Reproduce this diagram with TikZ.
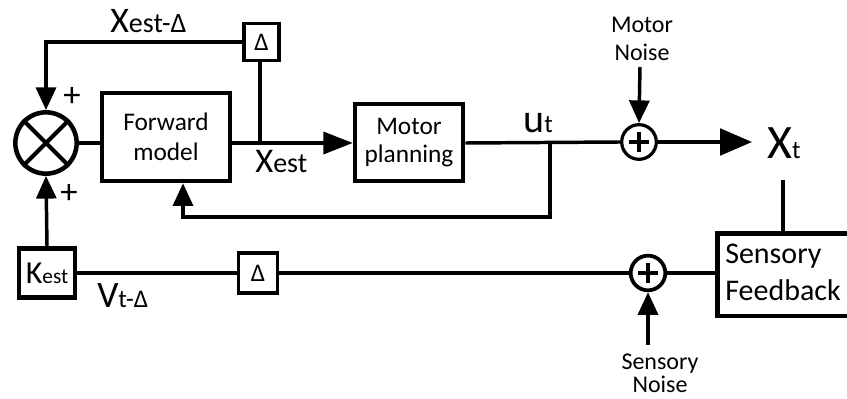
\documentclass[tikz,border=0pt]{standalone}
\usepackage{fontspec}
\setmainfont{Carlito}
\usetikzlibrary{arrows.meta}
\newcommand\fsz[2]{\fontsize{#1pt}{#2pt}\selectfont}
\begin{document}
\begin{tikzpicture}[x=0.75pt,y=-0.75pt,
  conn/.style={line width=2.6pt},
  boxst/.style={draw,line width=3.4pt,inner sep=0pt},
  dbox/.style={draw,line width=2.6pt,inner sep=0pt,font=\fsz{19}{20}},
  plusc/.style={circle,draw,line width=2.4pt,minimum size=26pt,inner sep=0pt},
  arr/.style={-{Triangle[length=17pt,width=15pt]}},
  arrbig/.style={-{Triangle[length=22pt,width=16.5pt]}},
  arrxt/.style={-{Triangle[length=24pt,width=20pt]}},
  lab/.style={inner sep=0pt},
]
\useasboundingbox (0,0) rectangle (847,399);
\clip (0,0) rectangle (847,399);

% summing junction
\node[circle,draw,line width=3.4pt,minimum size=46pt,inner sep=0pt] (sum) at (46,143) {};
\draw[line width=3pt] (sum.north west) -- (sum.south east) (sum.north east) -- (sum.south west);
\node[lab,font=\fsz{26}{27}] (p1) at (72,97) {+};
\node[lab,font=\fsz{26}{27}] (p2) at (69,194) {+};

% boxes
\node[boxst,minimum width=96pt,minimum height=66pt,align=center,font=\fsz{19}{22.5}] (fwd) at (166,137) {Forward\\model};
\node[boxst,minimum width=81pt,minimum height=58pt,align=center,font=\fsz{19}{21}] (mp) at (409,142.5) {Motor\\planning};
\node[dbox,minimum width=26pt,minimum height=28pt] (dtop) at (261.5,42) {Δ};
\node[dbox,minimum width=29pt,minimum height=30pt] (dbot) at (258,273) {Δ};
\node[boxst,minimum width=42pt,minimum height=37pt] (kest) at (47,273) {\fsz{24}{25}K\fsz{16}{17}est};
\node[boxst,minimum width=150pt,minimum height=62pt,anchor=north west] (sf) at (715,231) {};
\node[lab,anchor=west,align=left,font=\fsz{22.5}{28}] (sft) at (725,272.5) {Sensory\\Feedback};

% plus junctions
\node[plusc] (pm) at (639,142) {};
\draw[line width=2.6pt] ([xshift=-7.5pt]pm.center) -- ([xshift=7.5pt]pm.center) ([yshift=-7.5pt]pm.center) -- ([yshift=7.5pt]pm.center);
\node[plusc,line width=2.8pt] (ps) at (648,273) {};
\draw[line width=3pt] ([xshift=-7.5pt]ps.center) -- ([xshift=7.5pt]ps.center) ([yshift=-7.5pt]ps.center) -- ([yshift=7.5pt]ps.center);

% labels
\node[lab,anchor=base west] (lxd) at (110,33) {\fsz{27}{28}X\fsz{21}{22}est-Δ};
\node[lab,anchor=base west] (lxe) at (255,173) {\fsz{26}{27}X\fsz{21}{22}est};
\node[lab,anchor=base west] (lut) at (523,133) {\fsz{30}{31}u\fsz{19}{20}t};
\node[lab,anchor=base west] (lxt) at (767,159) {\fsz{36}{37}X\fsz{19}{20}t};
\node[lab,anchor=base west] (lvt) at (97,307) {\fsz{28}{29}V\fsz{19}{20}t-Δ};
\node[lab,align=center,font=\fsz{18}{21}] (mn) at (642,39) {Motor\\Noise};
\node[lab,align=center,font=\fsz{18}{17}] (sn) at (660,373.5) {Sensory\\Noise};

% coordinates
\coordinate (j1) at (260,143);
\coordinate (j2) at (550,143);
\coordinate (fb) at (183,217);
\coordinate (mnb) at (640,67);
\coordinate (xtip) at (752,142);
\coordinate (xtb) at (783,180);
\coordinate (snb) at (648,345);

% connectors
\draw[conn] (sum.east) -- (fwd.west |- sum.east);
\draw[conn,arrbig] (fwd.east |- j1) -- (mp.west |- j1);
\draw[conn] (j1) -- (j1 |- dtop.south);
\draw[conn,arr] (dtop.west) -| (sum.north);
\draw[conn] (mp.east |- j2) -- (pm.west);
\draw[conn,arr] (j2) |- (fb) -- (fb |- fwd.south);
\draw[conn,arr] (mnb) -- (pm.north);
\draw[conn,arrxt] (pm.east) -- (xtip);
\draw[conn] (xtb) -- (xtb |- sf.north);
\draw[conn] (kest.east) -- (dbot.west);
\draw[conn] (dbot.east) -- (ps.west);
\draw[conn] (ps.east) -- (sf.west |- ps.east);
\draw[conn,arr] (snb) -- (ps.south);
\draw[conn,arr] (kest.north) -- (sum.south);
\end{tikzpicture}
\end{document}
